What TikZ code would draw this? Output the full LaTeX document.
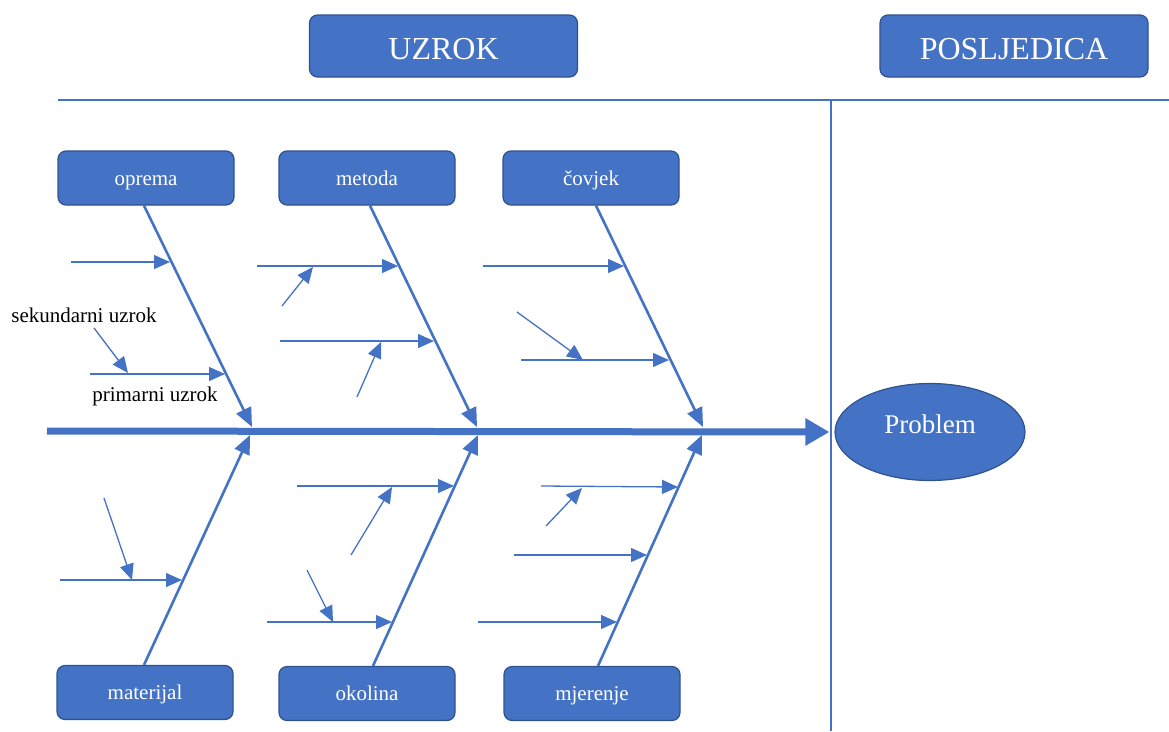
\documentclass[tikz,border=0pt]{standalone}
\usepackage{fontspec}
\setmainfont{Liberation Serif}
\usetikzlibrary{arrows.meta}
\usetikzlibrary{shapes.geometric}
\definecolor{plava}{HTML}{4472C4}
\definecolor{rubplava}{HTML}{2F528F}

\begin{document}
\begin{tikzpicture}[x=1pt, y=-1pt,
    kutija/.style={rectangle, rounded corners=8pt, draw=rubplava, line width=1.2pt, fill=plava, text=white, inner sep=0pt, minimum width=176pt, minimum height=54pt, text height=14pt, text depth=0pt, font=\fontsize{21}{25}\selectfont},
    naslov/.style={kutija, minimum width=268pt, minimum height=62pt, text height=26pt, font=\fontsize{32}{38}\selectfont},
    kost/.style={draw=plava, line width=2.6pt, -{Triangle[length=19pt,width=16pt]}},
    grana/.style={draw=plava, line width=1.3pt, -{Triangle[length=16pt,width=14pt]}},
    oznaka/.style={font=\fontsize{21}{25}\selectfont, inner sep=0pt}]

    \useasboundingbox (0,0) rectangle (1169,731);

    % naslovi
    \node[naslov] (uzrok) at (443.5,46) {UZROK};
    \node[naslov] (posljedica) at (1014,46) {POSLJEDICA};

    \coordinate (crtaL) at (58,100);
    \coordinate (crtaD) at (1169,100);
    \coordinate (razdG) at (831,100);
    \coordinate (razdD) at (831,731);
    \draw[plava, line width=1.5pt] (crtaL) -- (crtaD);
    \draw[plava, line width=1.5pt] (razdG) -- (razdD);

    % kategorije
    \node[kutija] (oprema) at (146,178) {oprema};
    \node[kutija] (metoda) at (367,178) {metoda};
    \node[kutija] (covjek) at (591,178) {čovjek};
    \node[kutija] (materijal) at (145,692.5) {materijal};
    \node[kutija] (okolina) at (367,693.5) {okolina};
    \node[kutija] (mjerenje) at (592,693.5) {mjerenje};

    \node[ellipse, draw=rubplava, line width=1.2pt, fill=plava, text=white, minimum width=190pt, minimum height=97pt, inner sep=0pt, text height=18pt, text depth=16pt, font=\fontsize{27}{32}\selectfont] (problem) at (930,432) {Problem};

    % kicma
    \coordinate (kicma) at (47,431);
    \draw[plava, line width=7pt, -{Triangle[length=24pt,width=26pt]}, shorten >=5pt] (kicma) -- (problem.west);

    % kosti
    \coordinate (k1) at (252,427);
    \coordinate (k2) at (477,427);
    \coordinate (k3) at (703,427);
    \coordinate (k4) at (250,435);
    \coordinate (k5) at (478,435);
    \coordinate (k6) at (702,435);
    \draw[kost] ([xshift=-2pt]oprema.south) -- (k1);
    \draw[kost] ([xshift=3pt]metoda.south) -- (k2);
    \draw[kost] ([xshift=5pt]covjek.south) -- (k3);
    \draw[kost] ([xshift=-1pt]materijal.north) -- (k4);
    \draw[kost] ([xshift=6pt]okolina.north) -- (k5);
    \draw[kost] ([xshift=6pt]mjerenje.north) -- (k6);

    % primarni i sekundarni uzroci
    \foreach \ime/\xa/\ya/\xb/\yb in {g1/71/262/170/262, g2/90/374/225/374, g3/94/328/128/373,
        g4/257/266/398/266, g5/282/306/313/267, g6/280/341/434/341, g7/357/397/381/342,
        g8/483/266/624/266, g9/521/360/669/360, g10/517/312/583/360,
        g11/60/580/182/580, g12/104/498/132/580,
        g13/297/486/454/486, g14/351/555/392/487, g15/267/622/392/622, g16/307/570/333/622,
        g17/541/486/678/487, g18/546/526/582/488, g19/514/555/647/555, g20/478/622/617/622}
    {
        \coordinate (\ime-od) at (\xa,\ya);
        \coordinate (\ime-do) at (\xb,\yb);
        \draw[grana] (\ime-od) -- (\ime-do);
    }

    \node[oznaka] (sekundarni) at (84,315) {sekundarni uzrok};
    \node[oznaka] (primarni) at (155,396) {primarni uzrok};

\end{tikzpicture}
\end{document}
